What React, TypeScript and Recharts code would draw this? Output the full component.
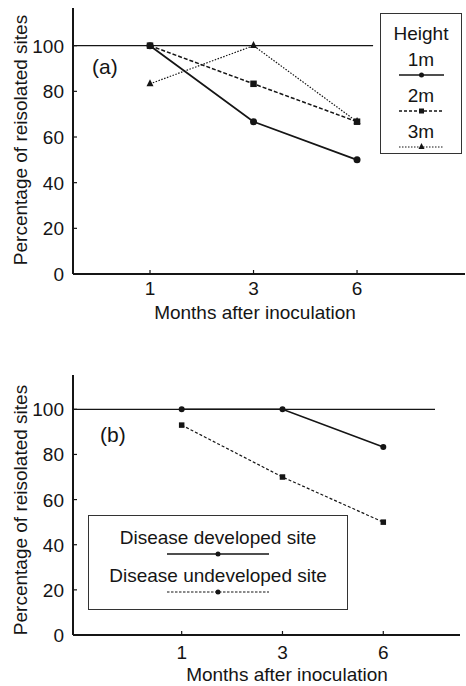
import { LineChart, Line, XAxis, YAxis, ReferenceLine, Legend } from "recharts";

// months after inoculation, plotted at equal spacing (index 1..3)
const months = [1, 3, 6];
const yTicks = [0, 20, 40, 60, 80, 100];

// panel (a): percentage of reisolated sites by inoculation height
const heightOne = [100, 66.7, 50];
const heightTwo = [100, 83.3, 66.7];
const heightThree = [83.3, 100, 66.7];

// panel (b): by disease development
const developedSite = [100, 100, 83.3];
const undevelopedSite = [93, 70, 50];

const FONT = "'Liberation Sans', Arial, Helvetica, sans-serif";
const INK = "#151515";
const FS = 19;

const panelA = months.map((m, i) => ({
  pos: i + 1,
  month: m,
  h1: heightOne[i],
  h2: heightTwo[i],
  h3: heightThree[i],
}));

const panelB = months.map((m, i) => ({
  pos: i + 1,
  month: m,
  dev: developedSite[i],
  undev: undevelopedSite[i],
}));

const circleDot = (r: number) => (p: any) => (
  <circle key={`c-${p.index}`} cx={p.cx} cy={p.cy} r={r} fill={INK} />
);

const squareDot = (s: number) => (p: any) => (
  <rect key={`s-${p.index}`} x={p.cx - s / 2} y={p.cy - s / 2} width={s} height={s} fill={INK} />
);

const triangleDot = (s: number) => (p: any) => (
  <polygon
    key={`t-${p.index}`}
    points={`${p.cx - s / 2},${p.cy + s / 3} ${p.cx + s / 2},${p.cy + s / 3} ${p.cx},${p.cy - (2 * s) / 3}`}
    fill={INK}
  />
);

// inward tick marks, label below
const xTick = (gap: number) => (p: any) => (
  <g key={`xt-${p.index}`}>
    <line x1={p.x} x2={p.x} y1={p.y} y2={p.y - 4} stroke={INK} strokeWidth={1.2} />
    <text x={p.x} y={p.y + gap} textAnchor="middle" fontSize={FS} fontFamily={FONT} fill={INK}>
      {months[p.payload.value - 1]}
    </text>
  </g>
);

const yTick = (p: any) => (
  <g key={`yt-${p.index}`}>
    {p.payload.value > 0 && (
      <line x1={p.x} x2={p.x + 4} y1={p.y} y2={p.y} stroke={INK} strokeWidth={1.2} />
    )}
    <text x={p.x - 9} y={p.y + 7} textAnchor="end" fontSize={FS} fontFamily={FONT} fill={INK}>
      {p.payload.value}
    </text>
  </g>
);

const yTitle = (dy: number) => (p: any) => {
  const vb = p.viewBox || { y: 0, height: 0 };
  const cy = vb.y + vb.height / 2 + dy;
  return (
    <text
      x={20}
      y={cy}
      transform={`rotate(-90 20 ${cy})`}
      textAnchor="middle"
      dominantBaseline="central"
      fontSize={FS}
      fontFamily={FONT}
      fill={INK}
    >
      Percentage of reisolated sites
    </text>
  );
};

const xTitle = (cx: number, gap: number) => (p: any) => {
  const vb = p.viewBox || { y: 0 };
  return (
    <text x={cx} y={vb.y + gap} textAnchor="middle" fontSize={FS} fontFamily={FONT} fill={INK}>
      Months after inoculation
    </text>
  );
};

function Sample({ width, dash, strokeWidth, marker }: { width: number; dash?: string; strokeWidth: number; marker: "circle" | "square" | "triangle" }) {
  const m = width / 2;
  return (
    <svg width={width} height={10} style={{ display: "block", margin: "0 auto" }}>
      <line x1={0} x2={width} y1={5} y2={5} stroke={INK} strokeWidth={strokeWidth} strokeDasharray={dash} />
      {marker === "circle" && <circle cx={m} cy={5} r={2.5} fill={INK} />}
      {marker === "square" && <rect x={m - 2.5} y={2.5} width={5} height={5} fill={INK} />}
      {marker === "triangle" && <polygon points={`${m - 3},7 ${m + 3},7 ${m},1`} fill={INK} />}
    </svg>
  );
}

const heightKey = [
  { name: "1m", dash: undefined, sw: 1.6, marker: "circle" as const },
  { name: "2m", dash: "3 2", sw: 1.4, marker: "square" as const },
  { name: "3m", dash: "1.5 1.5", sw: 1.2, marker: "triangle" as const },
];

function HeightKey() {
  return (
    <div
      style={{
        width: 82,
        height: 141,
        boxSizing: "border-box",
        border: `1.5px solid #333`,
        background: "#fff",
        fontFamily: FONT,
        fontSize: FS,
        color: INK,
        textAlign: "center",
        paddingTop: 9,
        lineHeight: "21px",
      }}
    >
      <div>Height</div>
      {heightKey.map((k) => (
        <div key={k.name} style={{ marginTop: 6 }}>
          <div style={{ lineHeight: "20px" }}>{k.name}</div>
          <Sample width={45} dash={k.dash} strokeWidth={k.sw} marker={k.marker} />
        </div>
      ))}
    </div>
  );
}

function SiteKey() {
  return (
    <div
      style={{
        width: 260,
        height: 95,
        boxSizing: "border-box",
        border: `1.5px solid #333`,
        background: "#fff",
        fontFamily: FONT,
        fontSize: FS,
        color: INK,
        textAlign: "center",
        paddingTop: 11,
        lineHeight: "22px",
      }}
    >
      <div>Disease developed site</div>
      <Sample width={102} strokeWidth={1.4} marker="circle" />
      <div style={{ marginTop: 6 }}>Disease undeveloped site</div>
      <Sample width={102} dash="2.5 1.5" strokeWidth={1.2} marker="circle" />
    </div>
  );
}

const panelLabel = (text: string, left: number, top: number) => (
  <div
    style={{
      position: "absolute",
      left,
      top,
      fontFamily: FONT,
      fontSize: 21,
      lineHeight: "22px",
      color: INK,
    }}
  >
    {text}
  </div>
);

export default function App() {
  return (
    <div style={{ position: "absolute", left: 0, top: 0, width: 466, height: 686, background: "#fff" }}>
      <div style={{ position: "absolute", left: 0, top: 0 }}>
        <LineChart width={466} height={330} data={panelA} margin={{ top: 8, right: 1, left: 0, bottom: 0 }}>
          <XAxis
            dataKey="pos"
            type="number"
            domain={[0.256, 4.043]}
            ticks={[1, 2, 3]}
            tick={xTick(21)}
            tickSize={0}
            tickMargin={0}
            tickLine={false}
            height={56}
            stroke={INK}
            strokeWidth={2}
            allowDataOverflow
            label={{ content: xTitle(255, 45) }}
          />
          <YAxis
            type="number"
            domain={[0, 116.5]}
            ticks={yTicks}
            tick={yTick}
            tickSize={0}
            tickMargin={0}
            tickLine={false}
            width={73}
            stroke={INK}
            strokeWidth={2}
            allowDataOverflow
            label={{ content: yTitle(-1) }}
          />
          <ReferenceLine
            segment={[
              { x: 0.256, y: 100 },
              { x: 3.155, y: 100 },
            ]}
            stroke={INK}
            strokeWidth={1.3}
            ifOverflow="visible"
          />
          <Line dataKey="h1" stroke={INK} strokeWidth={1.8} dot={circleDot(3.5)} isAnimationActive={false} />
          <Line dataKey="h2" stroke={INK} strokeWidth={1.5} strokeDasharray="4 2" dot={squareDot(6.5)} isAnimationActive={false} />
          <Line dataKey="h3" stroke={INK} strokeWidth={1.2} strokeDasharray="1.5 1.5" dot={triangleDot(7)} isAnimationActive={false} />
          <Legend
            layout="vertical"
            align="center"
            verticalAlign="middle"
            content={() => <HeightKey />}
            wrapperStyle={{ position: "absolute", left: 380, top: 13, width: 82, height: 141 }}
          />
        </LineChart>
        {panelLabel("(a)", 92, 56)}
      </div>

      <div style={{ position: "absolute", left: 0, top: 340 }}>
        <LineChart width={466} height={346} data={panelB} margin={{ top: 35, right: 6, left: 0, bottom: 0 }}>
          <XAxis
            dataKey="pos"
            type="number"
            domain={[-0.078, 3.761]}
            ticks={[1, 2, 3]}
            tick={xTick(24)}
            tickSize={0}
            tickMargin={0}
            tickLine={false}
            height={51}
            stroke={INK}
            strokeWidth={2}
            allowDataOverflow
            label={{ content: xTitle(287, 46) }}
          />
          <YAxis
            type="number"
            domain={[0, 115.2]}
            ticks={yTicks}
            tick={yTick}
            tickSize={0}
            tickMargin={0}
            tickLine={false}
            width={73}
            stroke={INK}
            strokeWidth={2}
            allowDataOverflow
            label={{ content: yTitle(5) }}
          />
          <ReferenceLine
            segment={[
              { x: -0.078, y: 100 },
              { x: 3.513, y: 100 },
            ]}
            stroke={INK}
            strokeWidth={1.3}
            ifOverflow="visible"
          />
          <Line dataKey="dev" stroke={INK} strokeWidth={1.6} dot={circleDot(3)} isAnimationActive={false} />
          <Line dataKey="undev" stroke={INK} strokeWidth={1.2} strokeDasharray="3 2" dot={squareDot(5.5)} isAnimationActive={false} />
          <Legend
            layout="vertical"
            align="center"
            verticalAlign="middle"
            content={() => <SiteKey />}
            wrapperStyle={{ position: "absolute", left: 88, top: 175, width: 260, height: 95 }}
          />
        </LineChart>
        {panelLabel("(b)", 100, 84)}
      </div>
    </div>
  );
}
